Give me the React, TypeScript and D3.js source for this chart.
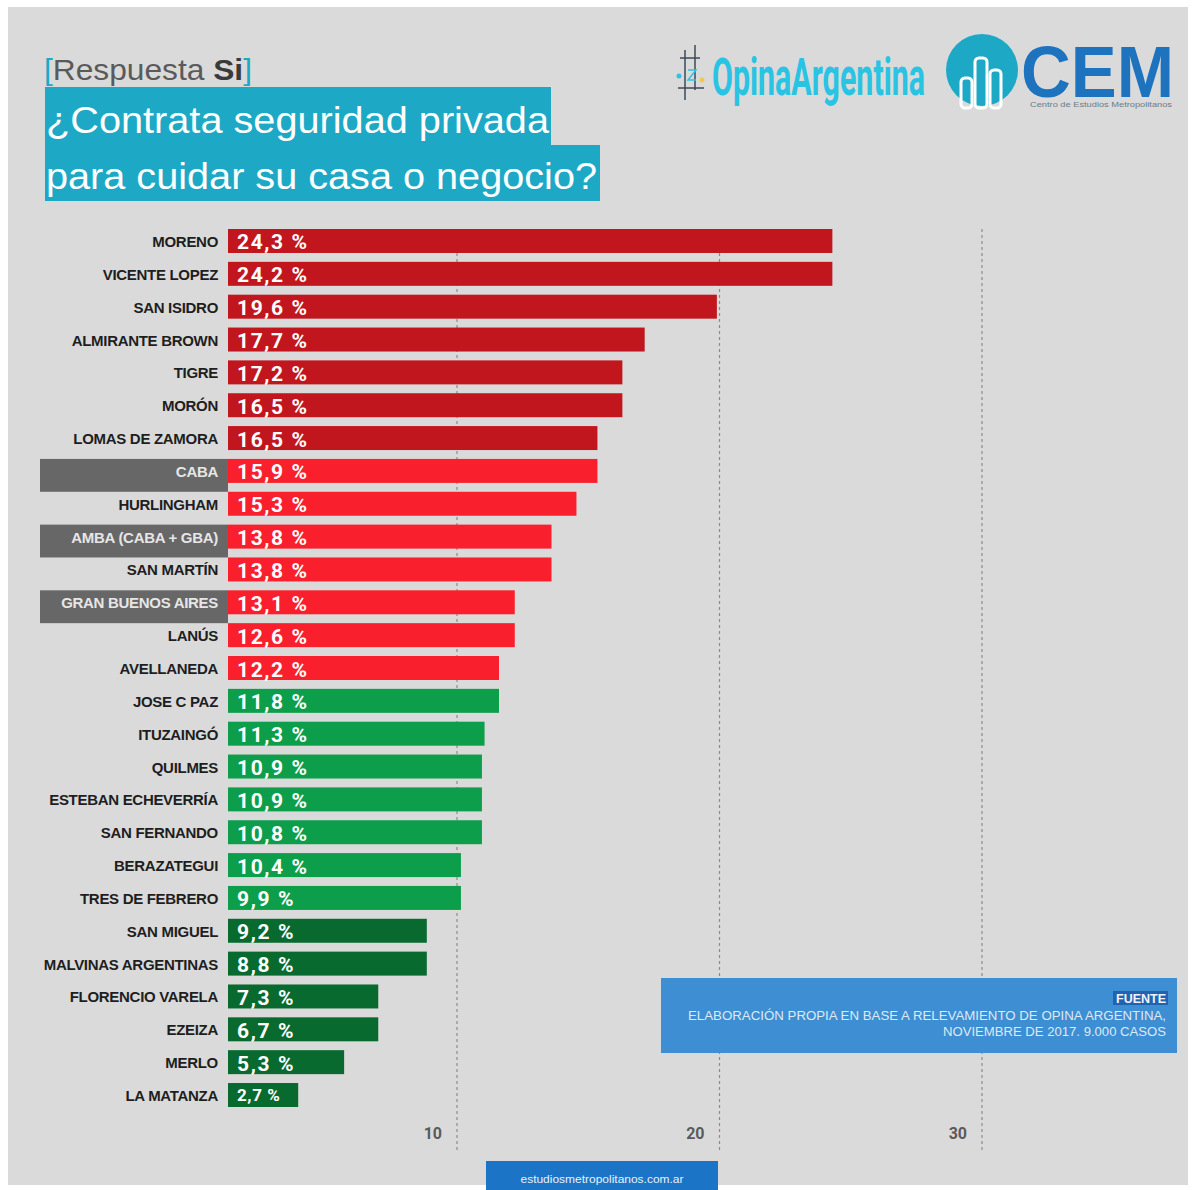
import React from "react";
import * as d3 from "d3";

const categories = [
  "MORENO", "VICENTE LOPEZ", "SAN ISIDRO", "ALMIRANTE BROWN", "TIGRE", "MORÓN",
  "LOMAS DE ZAMORA", "CABA", "HURLINGHAM", "AMBA (CABA + GBA)", "SAN MARTÍN",
  "GRAN BUENOS AIRES", "LANÚS", "AVELLANEDA", "JOSE C PAZ", "ITUZAINGÓ", "QUILMES",
  "ESTEBAN ECHEVERRÍA", "SAN FERNANDO", "BERAZATEGUI", "TRES DE FEBRERO",
  "SAN MIGUEL", "MALVINAS ARGENTINAS", "FLORENCIO VARELA", "EZEIZA", "MERLO", "LA MATANZA",
];
// value printed on each bar (%)
const values = [
  24.3, 24.2, 19.6, 17.7, 17.2, 16.5, 16.5, 15.9, 15.3, 13.8, 13.8, 13.1, 12.6, 12.2,
  11.8, 11.3, 10.9, 10.9, 10.8, 10.4, 9.9, 9.2, 8.8, 7.3, 6.7, 5.3, 2.7,
];
// bar extent as drawn in the reference, read against the 10/20/30 axis
const barLengths = [
  24.3, 24.3, 19.9, 17.15, 16.3, 16.3, 15.35, 15.35, 14.55, 13.6, 13.6, 12.2, 12.2, 11.6,
  11.6, 11.05, 10.95, 10.95, 10.95, 10.15, 10.15, 8.85, 8.85, 7.0, 7.0, 5.7, 3.95,
];
// colour group of each bar
const groups = [
  0, 0, 0, 0, 0, 0, 0, 1, 1, 1, 1, 1, 1, 1,
  2, 2, 2, 2, 2, 2, 2, 3, 3, 3, 3, 3, 3,
];
const aggregates = ["CABA", "AMBA (CABA + GBA)", "GRAN BUENOS AIRES"];
const ticks = [10, 20, 30];

const groupColors = ["#C2161E", "#F91F2D", "#0D9E4B", "#086A2F"];
const BG = "#DADADA";
const TEAL = "#1DA9C6";
const FONT = "'Liberation Sans', Arial, sans-serif";
const NUMFONT = "Roboto, 'Liberation Sans', sans-serif";

export default function App() {
  const W = 1192;
  const H = 1190;
  const x = d3.scaleLinear().domain([10, 30]).range([457, 982]);
  const y = d3.scaleBand<string>().domain(categories).range([229, 1107]).paddingInner(0.27).paddingOuter(0);
  const barX0 = 228;
  const step = y.step();
  const bw = y.bandwidth();
  const fmt = (v: number) => d3.format(".1f")(v).replace(".", ",") + " %";

  return (
    <div style={{ position: "absolute", left: 0, top: 0 }}>
      <svg width={W} height={H} viewBox={`0 0 ${W} ${H}`} style={{ display: "block" }}>
        <rect x={0} y={0} width={W} height={H} fill="#ffffff" />
        <rect x={8} y={7} width={1180} height={1178} fill={BG} />

        {/* Header */}
        <text x={44} y={80} fontFamily={FONT} fontSize={29} fill="#5a5a5a" textLength={208} lengthAdjust="spacingAndGlyphs">
          <tspan fill={TEAL}>[</tspan>
          <tspan>Respuesta </tspan>
          <tspan fontWeight="bold" fill="#3a3a3a">Si</tspan>
          <tspan fill={TEAL}>]</tspan>
        </text>
        <rect x={45} y={87} width={506} height={58} fill={TEAL} />
        <rect x={45} y={145} width={555} height={56} fill={TEAL} />
        <text x={46} y={133} fontFamily={FONT} fontSize={37} fill="#ffffff" textLength={503} lengthAdjust="spacingAndGlyphs">
          ¿Contrata seguridad privada
        </text>
        <text x={46} y={189} fontFamily={FONT} fontSize={37} fill="#ffffff" textLength={551} lengthAdjust="spacingAndGlyphs">
          para cuidar su casa o negocio?
        </text>

        {/* Opina Argentina logo */}
        <g stroke="#3a4a5a" strokeWidth={1.5} fill="none">
          <line x1={680} y1={58} x2={700} y2={58} />
          <line x1={685} y1={50} x2={685} y2={100} />
          <line x1={695} y1={45} x2={695} y2={90} />
          <line x1={678} y1={88} x2={704} y2={88} />
          <path d="M688 70 l8 0 l-8 10 l8 0" stroke="#2EC4E0" />
        </g>
        <circle cx={679} cy={76} r={2.5} fill="#2EC4E0" />
        <circle cx={702} cy={80} r={2.5} fill="#F2C94C" />
        <g transform="translate(712,95) scale(1,1.8)">
          <text x={0} y={0} fontFamily={NUMFONT} fontSize={29} fontWeight="bold" fill="#29C3E3" textLength={213} lengthAdjust="spacingAndGlyphs">
            OpinaArgentina
          </text>
        </g>

        {/* CEM logo */}
        <circle cx={982} cy={70} r={36} fill={TEAL} />
        <g fill="none" stroke="#ffffff" strokeWidth={3}>
          <rect x={961} y={78} width={11} height={30} rx={4} />
          <rect x={975} y={58} width={12} height={50} rx={4} />
          <rect x={990} y={70} width={11} height={38} rx={4} />
        </g>
        <text x={1021} y={97} fontFamily={FONT} fontSize={72} fontWeight="bold" fill="#1E73BE" textLength={153} lengthAdjust="spacingAndGlyphs">
          CEM
        </text>
        <text x={1030} y={107} fontFamily={FONT} fontSize={8} fill="#6a7a8a" textLength={142} lengthAdjust="spacingAndGlyphs">
          Centro de Estudios Metropolitanos
        </text>

        {/* Grid lines */}
        {ticks.map((t) => (
          <g key={t}>
            <line x1={x(t)} x2={x(t)} y1={229} y2={1150} stroke="#8d8d8d" strokeWidth={1.2} strokeDasharray="3,3" />
            <text x={x(t) - 15} y={1139} textAnchor="end" fontFamily={NUMFONT} fontWeight="bold" fontSize={16} fill="#5a5a5a">
              {t}
            </text>
          </g>
        ))}

        {/* Aggregate highlight boxes */}
        {categories.map((c) =>
          aggregates.includes(c) ? (
            <rect key={"agg" + c} x={40} y={y(c)!} width={barX0 - 40} height={step} fill="#676767" />
          ) : null
        )}

        {/* Bars */}
        {categories.map((c, i) => {
          const w = x(barLengths[i]) - barX0;
          const small = w < 80;
          return (
            <g key={c}>
              <rect x={barX0} y={y(c)!} width={w} height={bw} fill={groupColors[groups[i]]} />
              <text x={218} y={y(c)! + bw / 2 + 6} textAnchor="end" fontFamily={FONT} fontWeight="bold" fontSize={15}
                fill={aggregates.includes(c) ? "#e6e6e6" : "#1e1e1e"} letterSpacing={-0.3}>
                {c}
              </text>
              <text x={237} y={y(c)! + bw / 2 + (small ? 6 : 8.5)} fontFamily={NUMFONT} fontWeight="bold"
                fontSize={small ? 17 : 21} fill="#ffffff" letterSpacing={small ? 0.6 : 1.6}>
                {fmt(values[i])}
              </text>
            </g>
          );
        })}

        {/* Source box */}
        <rect x={661} y={978} width={516} height={75} fill="#3D8ED2" />
        <rect x={1113} y={991} width={55} height={14} fill="#2063B0" />
        <text x={1166} y={1003} textAnchor="end" fontFamily={FONT} fontWeight="bold" fontSize={12} fill="#eef4fb" textLength={50} lengthAdjust="spacingAndGlyphs">
          FUENTE
        </text>
        <text x={1166} y={1020} textAnchor="end" fontFamily={FONT} fontSize={12.5} fill="#dfe9f4" textLength={478} lengthAdjust="spacingAndGlyphs">
          ELABORACIÓN PROPIA EN BASE A RELEVAMIENTO DE OPINA ARGENTINA,
        </text>
        <text x={1166} y={1036} textAnchor="end" fontFamily={FONT} fontSize={12.5} fill="#dfe9f4" textLength={223} lengthAdjust="spacingAndGlyphs">
          NOVIEMBRE DE 2017. 9.000 CASOS
        </text>

        {/* Footer */}
        <rect x={486} y={1161} width={232} height={29} fill="#1B74C5" />
        <text x={602} y={1183} textAnchor="middle" fontFamily={FONT} fontSize={11} fill="#e8f1fa" textLength={163} lengthAdjust="spacingAndGlyphs">
          estudiosmetropolitanos.com.ar
        </text>
      </svg>
    </div>
  );
}
